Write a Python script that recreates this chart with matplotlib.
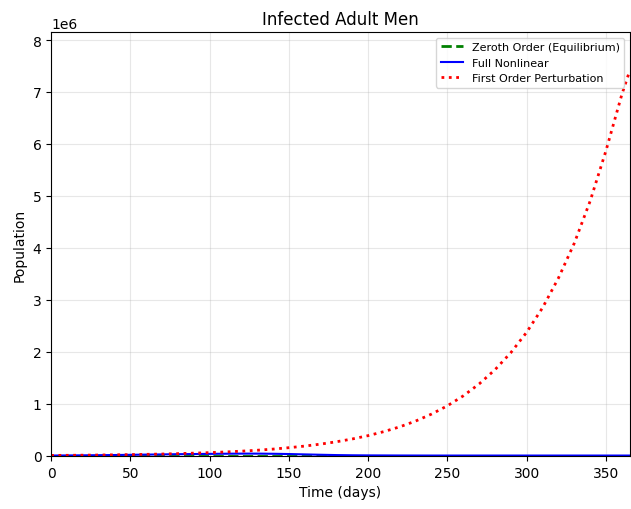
import numpy as np
import matplotlib
matplotlib.use('Agg')
import matplotlib.pyplot as plt

# time grid (days) and values
days = [0, 10, 20, 30, 40, 50, 60, 70, 80, 90, 100, 110, 120, 130, 140,
        150, 160, 170, 180, 190, 200, 210, 220, 230, 240, 250, 260, 270,
        280, 290, 300, 310, 320, 330, 340, 350, 360, 365]

first_order = [0.0105e6, 0.0125e6, 0.015e6, 0.018e6, 0.022e6, 0.026e6,
               0.031e6, 0.037e6, 0.045e6, 0.054e6, 0.064e6, 0.077e6,
               0.092e6, 0.110e6, 0.132e6, 0.159e6, 0.190e6, 0.228e6,
               0.273e6, 0.327e6, 0.391e6, 0.469e6, 0.561e6, 0.672e6,
               0.806e6, 0.965e6, 1.156e6, 1.385e6, 1.659e6, 1.987e6,
               2.38e6, 2.85e6, 3.42e6, 4.09e6, 4.90e6, 5.87e6, 6.95e6,
               7.41e6]

full_nonlinear = [8e3, 10e3, 12e3, 15e3, 18e3, 22e3, 26e3, 30e3, 34e3,
                  37e3, 40e3, 43e3, 45e3, 45e3, 42e3, 37e3, 30e3, 23e3,
                  17e3, 13e3, 11e3, 10e3, 9e3, 8.5e3, 8e3, 8e3, 8e3, 8e3,
                  8e3, 8e3, 8e3, 8e3, 8e3, 8e3, 8e3, 8e3, 8e3, 8e3]

equilibrium = [8e3] * len(days)

fig, ax = plt.subplots(figsize=(6.31, 5.10), dpi=100)

ax.plot(days, equilibrium, 'g--', linewidth=2, label='Zeroth Order (Equilibrium)')
ax.plot(days, full_nonlinear, 'b-', linewidth=1.5, label='Full Nonlinear')
ax.plot(days, first_order, 'r:', linewidth=2, label='First Order Perturbation')

ax.set_xlim(0, 365)
ax.set_ylim(0, 1.1 * max(first_order))
ax.set_title('Infected Adult Men')
ax.set_xlabel('Time (days)')
ax.set_ylabel('Population')
ax.grid(True, alpha=0.3)
ax.legend(loc='upper right', fontsize=8)

# axes box placed to match the reference
fig.subplots_adjust(left=0.081, right=0.998, top=0.935, bottom=0.104)
fig.savefig('out.png', dpi=100)
